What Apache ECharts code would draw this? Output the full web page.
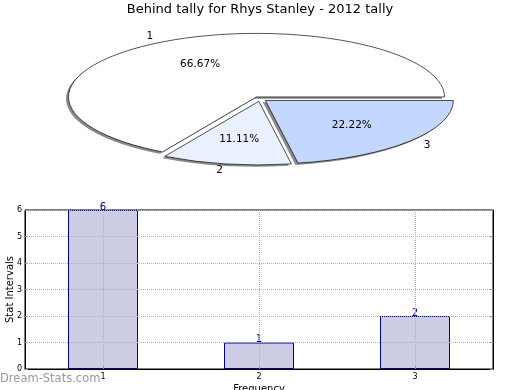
<!DOCTYPE html>
<html><head><meta charset="utf-8">
<script src="https://cdn.jsdelivr.net/npm/echarts@6/dist/echarts.min.js"></script>
<style>
html,body{margin:0;padding:0;background:#fff;width:520px;height:390px;overflow:hidden;}
#pie{position:absolute;left:0;top:28.2px;width:520px;height:420px;transform-origin:0 0;transform:scaleY(0.338);}
#pie svg path{vector-effect:non-scaling-stroke;}
#main{position:absolute;left:0;top:0;width:520px;height:390px;}
</style></head><body>
<div id="pie"></div><div id="main"></div>
<script>
const chartTitle = 'Behind tally for Rhys Stanley - 2012 tally';
const pieNames = ['1', '2', '3'];
const pieValues = [6, 1, 2];
const pieColors = ['#ffffff', '#e9f0ff', '#c4d8ff'];
const barCategories = ['1', '2', '3'];
const barValues = [6, 1, 2];
const yMin = 0, yMax = 6, yStep = 1;
const watermark = 'Dream-Stats.com';

const FONT = '"DejaVu Sans", Verdana, sans-serif';
const PIE_TOP = 28.2, PIE_K = 0.338, PIE_R = 188, PIE_CX = 260, PIE_CY = 210, PIE_OFF = 7;
const SH_DX = -2.5, SH_DY = 5.5;

const pieData = (colorFn, extra) => pieValues.map((v, i) => ({name: pieNames[i], value: v, selected: true, itemStyle: Object.assign({color: colorFn(i)}, extra)}));
const pieBase = {
  type: 'pie', radius: PIE_R, startAngle: 0, clockwise: false,
  selectedMode: 'multiple', selectedOffset: PIE_OFF, avoidLabelOverlap: false,
  label: {show: false}, labelLine: {show: false},
  emphasis: {disabled: true, scale: false}, silent: true
};

const pie = echarts.init(document.getElementById('pie'), null, {renderer: 'svg'});
pie.setOption({
  animation: false,
  series: [
    Object.assign({}, pieBase, {
      center: [PIE_CX + SH_DX, PIE_CY + SH_DY], z: 1,
      itemStyle: {borderWidth: 0},
      data: pieData(() => '#8a8a8a', {borderWidth: 0})
    }),
    Object.assign({}, pieBase, {
      center: [PIE_CX, PIE_CY], z: 2,
      itemStyle: {borderColor: '#000', borderWidth: 1},
      data: pieData(i => pieColors[i], {})
    })
  ]
});

// label positions from the pie layout
let layouts = null;
try {
  const d = pie.getModel().getSeriesByIndex(1).getData();
  layouts = pieValues.map((_, i) => d.getItemLayout(i));
  if (!layouts[0] || layouts[0].startAngle == null) layouts = null;
} catch (e) { layouts = null; }
if (!layouts) {
  const sum = pieValues.reduce((a, b) => a + b, 0);
  let a = 0;
  layouts = pieValues.map(v => { const s = a; a -= v / sum * Math.PI * 2; return {cx: PIE_CX, cy: PIE_CY, r: PIE_R, startAngle: s, endAngle: a}; });
}
const total = pieValues.reduce((a, b) => a + b, 0);
const pieTexts = [];
layouts.forEach((l, i) => {
  const mid = (l.startAngle + l.endAngle) / 2;
  const ux = Math.cos(mid), uy = Math.sin(mid);
  const ox = l.cx + PIE_OFF * ux, oy = l.cy + PIE_OFF * uy;
  const toScreen = (f) => [ox + f * l.r * ux, PIE_TOP + (oy + f * l.r * uy) * PIE_K];
  const p = toScreen(0.6), n = toScreen(1.1);
  pieTexts.push({type: 'text', x: p[0], y: p[1], z: 10, style: {text: (pieValues[i] / total * 100).toFixed(2) + '%', font: '10.5px ' + FONT, fill: '#000', align: 'center', verticalAlign: 'middle', textAlign: 'center', textVerticalAlign: 'middle'}});
  const ha = ux > 0 ? 'left' : 'right';
  pieTexts.push({type: 'text', x: n[0], y: n[1], z: 10, style: {text: pieNames[i], font: '10.5px ' + FONT, fill: '#000', align: ha, verticalAlign: 'middle', textAlign: ha, textVerticalAlign: 'middle'}});
});

const main = echarts.init(document.getElementById('main'));
main.setOption({
  animation: false,
  textStyle: {fontFamily: FONT},
  title: {text: chartTitle, left: 'center', top: 3, padding: 0, textStyle: {fontSize: 13, fontWeight: 'normal', color: '#000', fontFamily: FONT}},
  grid: {left: 25, right: 27, top: 210, bottom: 21, show: true, borderColor: '#000', borderWidth: 1, containLabel: false, outerBoundsMode: 'none'},
  xAxis: {
    type: 'category', data: barCategories, boundaryGap: true, z: 3,
    name: 'Frequency', nameLocation: 'middle', nameGap: 15, nameTextStyle: {fontSize: 10, color: '#000'},
    axisLine: {lineStyle: {color: '#000', width: 1}},
    axisTick: {show: true, inside: true, alignWithLabel: true, length: 3, lineStyle: {color: '#999'}},
    axisLabel: {fontSize: 8, color: '#000', margin: 4},
    splitLine: {show: true, alignWithLabel: true, lineStyle: {type: 'dotted', color: '#b0b0b0', width: 1}}
  },
  yAxis: [{
    type: 'value', min: yMin, max: yMax, interval: yStep, z: 3,
    name: 'Stat Intervals', nameLocation: 'middle', nameGap: 10, nameMoveOverlap: false, nameTextStyle: {fontSize: 10, color: '#000'},
    axisLine: {show: true, lineStyle: {color: '#000', width: 1}},
    axisTick: {show: true, inside: true, length: 3, lineStyle: {color: '#999'}},
    axisLabel: {fontSize: 8, color: '#000', margin: 3},
    splitLine: {show: true, lineStyle: {type: 'dotted', color: '#b0b0b0', width: 1}}
  }, {
    type: 'value', min: yMin, max: yMax, interval: yStep, position: 'right', z: 3,
    axisLine: {show: true, lineStyle: {color: '#000', width: 1}},
    axisTick: {show: true, inside: true, length: 3, lineStyle: {color: '#999'}},
    axisLabel: {show: false}, splitLine: {show: false}
  }],
  series: [{
    type: 'bar', data: barValues, barWidth: 70, yAxisIndex: 0,
    itemStyle: {color: '#ccccE5', borderColor: '#00008b', borderWidth: 1},
    label: {show: true, position: 'top', distance: -2, color: '#00008b', fontSize: 10, fontFamily: FONT}
  }],
  graphic: pieTexts.concat([{
    type: 'text', left: 0, top: 373, z: 10,
    style: {text: watermark, font: '11.5px ' + FONT, fill: '#999'}
  }])
});
</script>
</body></html>
